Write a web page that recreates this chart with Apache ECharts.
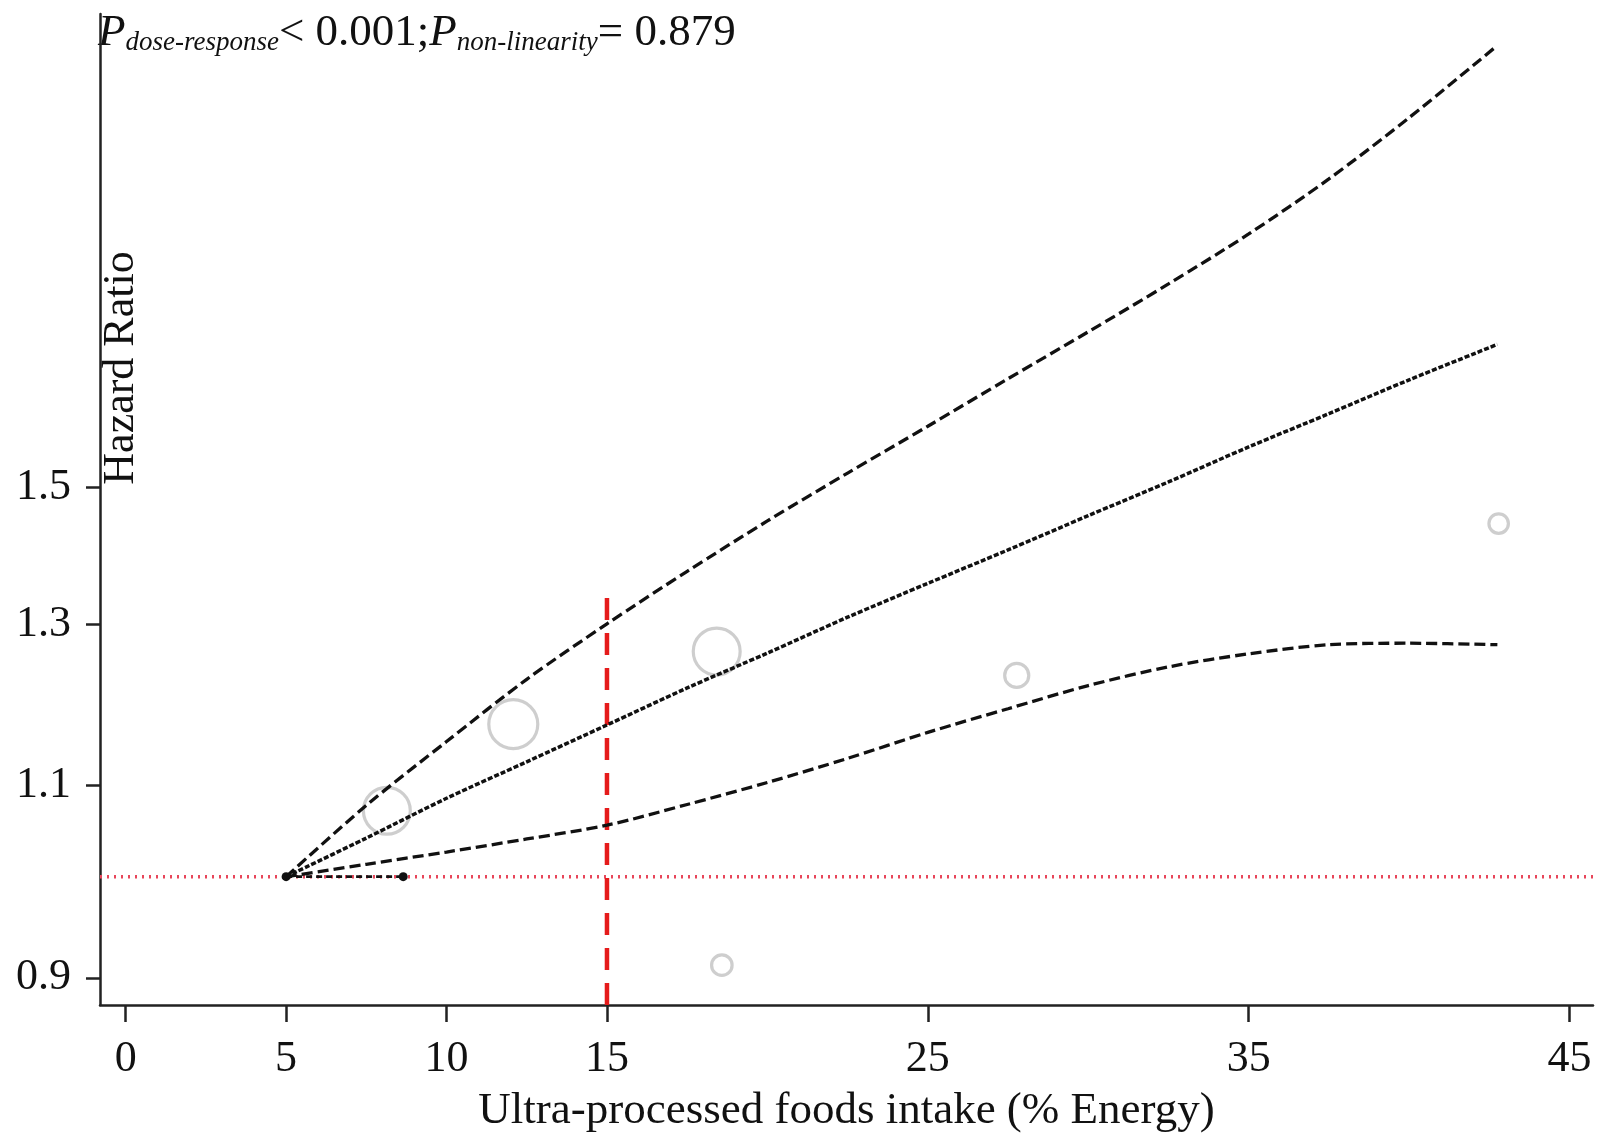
<!DOCTYPE html>
<html>
<head>
<meta charset="utf-8">
<script src="https://cdn.jsdelivr.net/npm/echarts@6/dist/echarts.min.js"></script>
<style>
html,body{margin:0;padding:0;background:#fff;}
#chart{width:1614px;height:1139px;}
</style>
</head>
<body>
<div id="chart"></div>
<script>
// ---- data (hazard ratios) ----
var curveX   = [5, 7.5, 10, 12.5, 15, 17.5, 20, 22.5, 25, 27.5, 30, 32.5, 35, 37.5, 40, 42.75];
var centerHR = [1.000, 1.041, 1.085, 1.127, 1.171, 1.217, 1.262, 1.310, 1.357, 1.405, 1.456, 1.508, 1.564, 1.619, 1.677, 1.740];
var upperHR  = [1.000, 1.077, 1.151, 1.228, 1.301, 1.374, 1.448, 1.522, 1.598, 1.679, 1.763, 1.853, 1.952, 2.067, 2.203, 2.375];
var lowerHR  = [1.000, 1.013, 1.026, 1.040, 1.055, 1.078, 1.103, 1.131, 1.162, 1.191, 1.220, 1.244, 1.261, 1.273, 1.275, 1.273];

var studyX      = [8.14, 12.08, 18.42, 18.58, 27.77, 42.79];
var studyHR     = [1.071, 1.172, 1.264, 0.912, 1.233, 1.444];
var studyWeight = [22, 24, 22, 4.2, 5.8, 3.8];

var refSegX  = [5, 8.65];        // short segment along HR = 1
var refSegHR = [1.0, 1.0];

var cutX = 15;                    // vertical reference at 15 %E
var cutTopHR = 1.347;

var xTicks = [0, 5, 10, 15, 25, 35, 45];
var yTicks = [0.9, 1.1, 1.3, 1.5];

var xMin = -0.8, xMax = 45.73;
var yMinHR = 0.875, yMaxHR = 2.454;

// ---- build ----
var ln = Math.log;
function pairs(xs, hs){ return xs.map(function(x,i){ return [x, ln(hs[i])]; }); }

var serif = '"Liberation Serif","Times New Roman",serif';
var chart = echarts.init(document.getElementById('chart'), null, {renderer:'canvas'});

var option = {
  backgroundColor: '#ffffff',
  animation: false,
  grid: {left: 100, right: 21, top: 14, bottom: 132, containLabel: false},
  xAxis: {
    type: 'value', min: xMin, max: xMax,
    name: 'Ultra-processed foods intake (% Energy)',
    nameLocation: 'middle', nameGap: 84,
    nameTextStyle: {fontFamily: serif, fontSize: 45, color: '#111'},
    axisLine: {show: true, onZero: false, lineStyle: {color: '#222', width: 2.5}},
    axisTick: {show: true, length: 17, lineStyle: {color: '#222', width: 2.5}, customValues: xTicks},
    axisLabel: {fontFamily: serif, fontSize: 44, color: '#111', margin: 32, customValues: xTicks},
    splitLine: {show: false}
  },
  yAxis: {
    type: 'value', min: ln(yMinHR), max: ln(yMaxHR),
    axisLine: {show: true, onZero: false, lineStyle: {color: '#222', width: 2.5}},
    axisTick: {show: true, length: 14, lineStyle: {color: '#222', width: 2.5}, customValues: yTicks.map(ln)},
    axisLabel: {fontFamily: serif, fontSize: 44, color: '#111', margin: 29,
      customValues: yTicks.map(ln),
      formatter: function(v){ return Math.exp(v).toFixed(1); }},
    splitLine: {show: false}
  },
  series: [
    { // HR = 1 reference
      type: 'line', data: [[xMin, ln(1)], [xMax, ln(1)]], symbol: 'none', silent: true,
      lineStyle: {color: '#e8465a', width: 3.5, type: [2, 5]}, z: 1
    },
    { // vertical cut-off
      type: 'line', data: [[cutX, ln(yMinHR)], [cutX, ln(cutTopHR)]], symbol: 'none', silent: true,
      lineStyle: {color: '#e51b1b', width: 4.5, type: [22, 13]}, z: 2
    },
    { // study estimates
      type: 'scatter',
      data: studyX.map(function(x,i){ return [x, ln(studyHR[i]), studyWeight[i]]; }),
      symbol: 'circle',
      symbolSize: function(d){ return 10 * Math.sqrt(d[2]); },
      itemStyle: {color: 'rgba(255,255,255,0)', borderColor: '#c2c2c2', borderWidth: 3.2},
      z: 3
    },
    { // upper CI
      type: 'line', data: pairs(curveX, upperHR), smooth: 0.3, symbol: 'none',
      lineStyle: {color: '#111', width: 3.3, type: [11, 5]}, z: 4
    },
    { // lower CI
      type: 'line', data: pairs(curveX, lowerHR), smooth: 0.3, symbol: 'none',
      lineStyle: {color: '#111', width: 3.3, type: [11, 5]}, z: 4
    },
    { // estimate
      type: 'line', data: pairs(curveX, centerHR), smooth: 0.3, symbol: 'none',
      lineStyle: {color: '#111', width: 3.5, type: [5, 2]}, z: 5
    },
    { // short segment at HR=1
      type: 'line', data: pairs(refSegX, refSegHR), symbol: 'circle', symbolSize: 9,
      itemStyle: {color: '#111'},
      lineStyle: {color: '#111', width: 2.8, type: [6, 4]}, z: 5
    }
  ],
  graphic: [
    {
      type: 'text', left: 98, top: 11,
      style: {
        text: '{p|P}{s|dose-response}{m|< 0.001;}{p|P}{s|non-linearity}{m|= 0.879}',
        rich: {
          p: {fontFamily: serif, fontSize: 45, fontStyle: 'italic', fill: '#111', lineHeight: 51, verticalAlign: 'bottom'},
          m: {fontFamily: serif, fontSize: 45, fill: '#111', lineHeight: 51, verticalAlign: 'bottom'},
          s: {fontFamily: serif, fontSize: 27, fontStyle: 'italic', fill: '#111', lineHeight: 27, verticalAlign: 'bottom'}
        }
      }
    },
    {
      type: 'text', x: 121, y: 368, rotation: Math.PI / 2,
      style: {text: 'Hazard Ratio', fontFamily: serif, fontSize: 44, fill: '#111',
              textAlign: 'center', textVerticalAlign: 'middle'}
    }
  ]
};
chart.setOption(option);
</script>
</body>
</html>
